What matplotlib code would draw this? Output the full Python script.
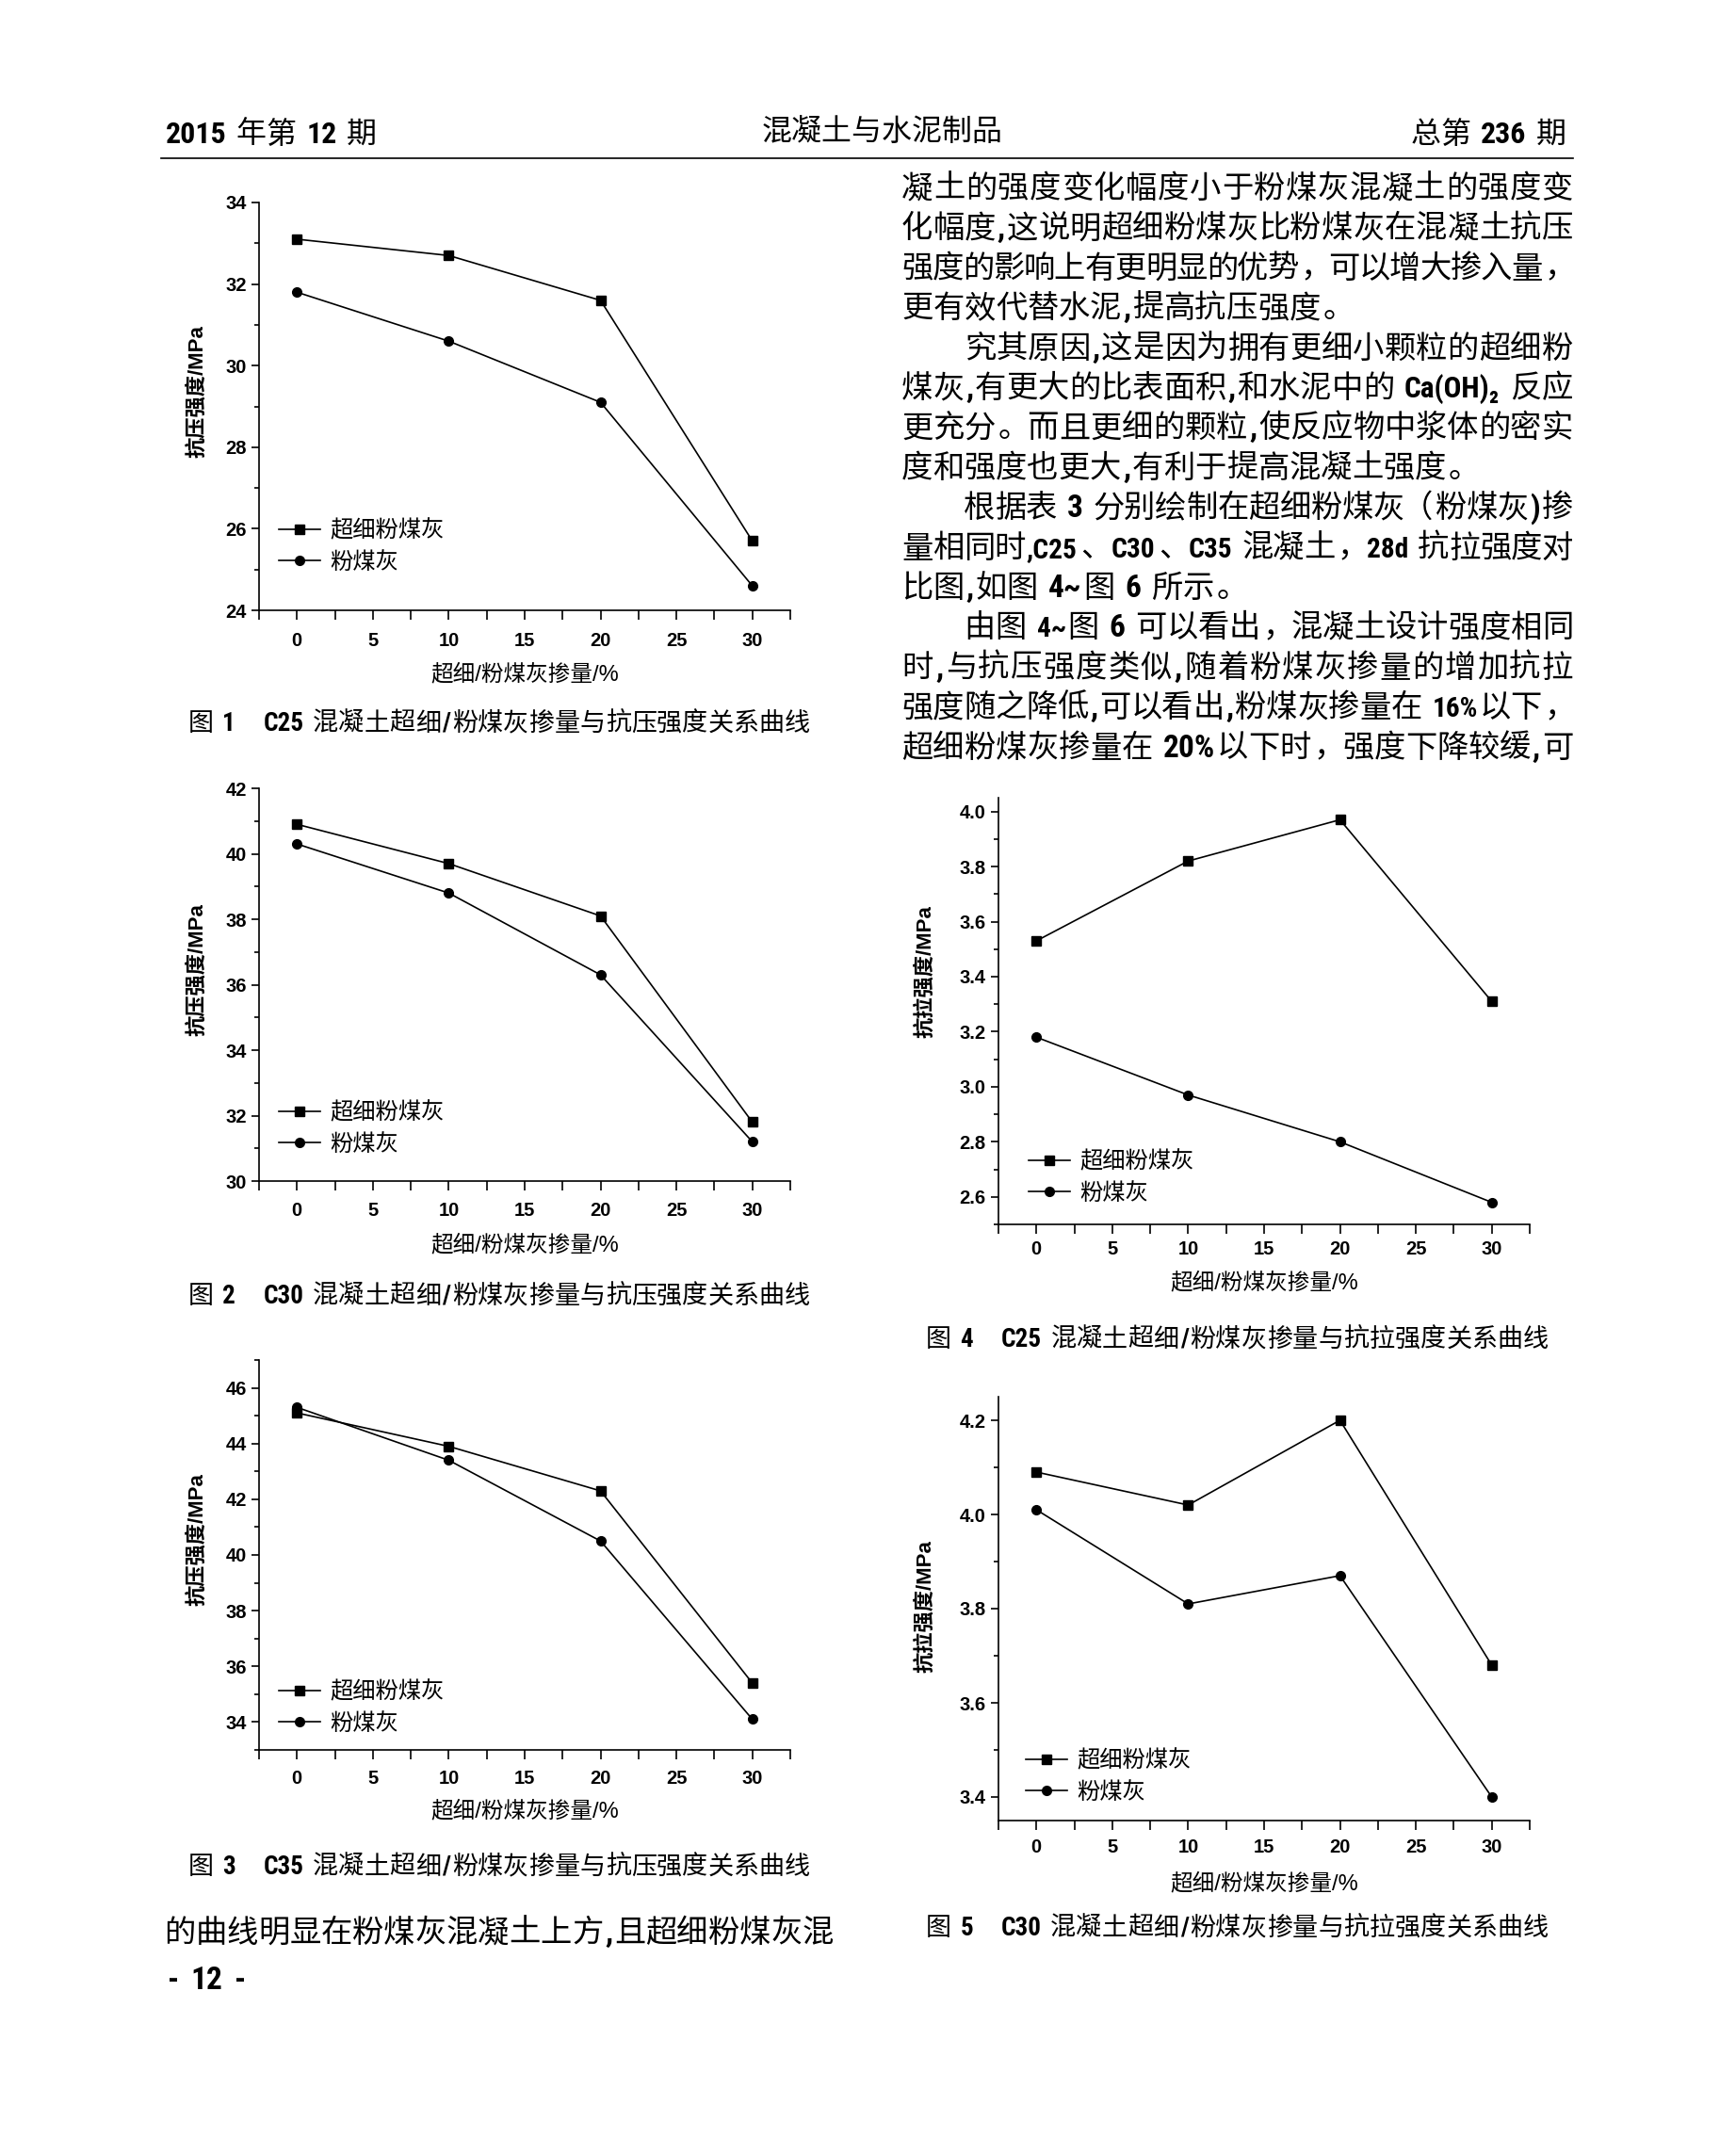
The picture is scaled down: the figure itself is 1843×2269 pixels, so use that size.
import re
import matplotlib
matplotlib.use('Agg')
import matplotlib.pyplot as plt
from matplotlib import font_manager as fm
from matplotlib.lines import Line2D
from matplotlib.ticker import MultipleLocator, FormatStrFormatter

W, H = 1843, 2269
DPI = 100

installed = {f.name for f in fm.fontManager.ttflist}
narrow = [n for n in ['Liberation Sans Narrow', 'Arial Narrow', 'Roboto Condensed']
          if n in installed]

CJK = ['Noto Sans CJK SC', 'DejaVu Sans']
NUM = ['Liberation Sans', 'DejaVu Sans']
BODY_NUM = narrow + NUM          # body text digits are a narrow bold face
plt.rcParams['font.family'] = NUM + ['Noto Sans CJK SC']

# ---- data ----
dose = [0, 10, 20, 30]
series_names = ['超细粉煤灰', '粉煤灰']

c25_comp_ultra = [33.1, 32.7, 31.6, 25.7]
c25_comp_fly = [31.8, 30.6, 29.1, 24.6]
c30_comp_ultra = [40.9, 39.7, 38.1, 31.8]
c30_comp_fly = [40.3, 38.8, 36.3, 31.2]
c35_comp_ultra = [45.1, 43.9, 42.3, 35.4]
c35_comp_fly = [45.3, 43.4, 40.5, 34.1]
c25_tens_ultra = [3.53, 3.82, 3.97, 3.31]
c25_tens_fly = [3.18, 2.97, 2.80, 2.58]
c30_tens_ultra = [4.09, 4.02, 4.20, 3.68]
c30_tens_fly = [4.01, 3.81, 3.87, 3.40]

x_label = '超细/粉煤灰掺量/%'
ylab_comp = '抗压强度/MPa'
ylab_tens = '抗拉强度/MPa'

captions = [
    '图 1\u3000C25 混凝土超细/粉煤灰掺量与抗压强度关系曲线',
    '图 2\u3000C30 混凝土超细/粉煤灰掺量与抗压强度关系曲线',
    '图 3\u3000C35 混凝土超细/粉煤灰掺量与抗压强度关系曲线',
    '图 4\u3000C25 混凝土超细/粉煤灰掺量与抗拉强度关系曲线',
    '图 5\u3000C30 混凝土超细/粉煤灰掺量与抗拉强度关系曲线',
]

body_lines = [
    '凝土的强度变化幅度小于粉煤灰混凝土的强度变',
    '化幅度,这说明超细粉煤灰比粉煤灰在混凝土抗压',
    '强度的影响上有更明显的优势，可以增大掺入量，',
    '更有效代替水泥,提高抗压强度。',
    '\u3000\u3000究其原因,这是因为拥有更细小颗粒的超细粉',
    '煤灰,有更大的比表面积,和水泥中的 Ca(OH)\u2082 反应',
    '更充分。而且更细的颗粒,使反应物中浆体的密实',
    '度和强度也更大,有利于提高混凝土强度。',
    '\u3000\u3000根据表 3 分别绘制在超细粉煤灰（粉煤灰)掺',
    '量相同时,C25、C30、C35 混凝土，28d 抗拉强度对',
    '比图,如图 4~图 6 所示。',
    '\u3000\u3000由图 4~图 6 可以看出，混凝土设计强度相同',
    '时,与抗压强度类似,随着粉煤灰掺量的增加抗拉',
    '强度随之降低,可以看出,粉煤灰掺量在 16%以下，',
    '超细粉煤灰掺量在 20%以下时，强度下降较缓,可',
]
body_justify = [True, True, True, False, True, True, True, False,
                True, True, False, True, True, True, True]
left_line = '的曲线明显在粉煤灰混凝土上方,且超细粉煤灰混'

fig = plt.figure(figsize=(W / DPI, H / DPI), dpi=DPI, facecolor='white')
renderer = fig.canvas.get_renderer()


def fx(px):
    return px / W


def fy(py):
    return 1 - py / H


def measure(s, size, weight):
    t = fig.text(0, 0, s, fontsize=size, fontweight=weight, family=BODY_NUM)
    w = t.get_window_extent(renderer=renderer).width
    t.remove()
    return w


def is_ascii(t):
    return re.match(r'[\x21-\x7e\u2082]', t) is not None


def token_widths(toks, em, nsize, weight):
    widths = []
    for t in toks:
        if t.startswith(' '):
            widths.append(0.28 * em * len(t))
        elif t == '\u3000':
            widths.append(em)
        elif is_ascii(t):
            widths.append(measure(t, nsize, weight) + 0.1 * em)
        else:
            widths.append(em)
    return widths


def draw_run(text, x0, yc, size, x1=None, align='left', num_weight='bold'):
    """Lay out a mixed CJK/Latin line token by token (CJK chars on an em grid)."""
    em = size * DPI / 72
    toks = re.findall(r'[\x21-\x7e\u2082]+| +|\u3000|.', text)
    nsize = size
    widths = token_widths(toks, em, nsize, num_weight)
    total = sum(widths)
    if align == 'justify' and total > x1 - x0:
        # squeeze the longer latin runs slightly when a justified line overflows
        asc = sum(w for t, w in zip(toks, widths) if is_ascii(t) and len(t) > 1)
        if asc > 0:
            nsize = size * max(0.88, 1 - (total - (x1 - x0)) / asc)
            widths = [measure(t, nsize, num_weight) + 0.1 * em
                      if is_ascii(t) and len(t) > 1 else w
                      for t, w in zip(toks, widths)]
            total = sum(widths)
    gap = 0
    if align == 'justify' and len(toks) > 1:
        gap = (x1 - x0 - total) / (len(toks) - 1)
    if align == 'right':
        x0 = x1 - total
    base = yc + 0.36 * em
    x = x0
    for t, w in zip(toks, widths):
        if t.strip() and t != '\u3000':
            if is_ascii(t):
                fs = nsize if len(t) > 1 else size
                fig.text(fx(x + 0.05 * em), fy(base), t, ha='left', va='baseline',
                         fontsize=fs, fontweight=num_weight, family=BODY_NUM)
            elif t in '，。、：；':
                fig.text(fx(x + 0.08 * em), fy(base), t, ha='left', va='baseline',
                         fontsize=size, family=CJK)
            elif t == '（':
                fig.text(fx(x + 0.92 * em), fy(base), t, ha='right', va='baseline',
                         fontsize=size, family=CJK)
            else:
                fig.text(fx(x + em / 2), fy(base), t, ha='center', va='baseline',
                         fontsize=size, family=CJK)
        x += w + gap


# ---- page header ----
draw_run('2015 年第 12 期', 174, 140, 23)
fig.text(fx(937), fy(140), '混凝土与水泥制品', ha='center', va='center',
         fontsize=23, family=CJK)
draw_run('总第 236 期', 0, 140, 23, x1=1663, align='right')
fig.add_artist(Line2D([fx(171), fx(1670)], [fy(168), fy(168)], color='black', lw=1.2))

# ---- body text ----
for i, (line, just) in enumerate(zip(body_lines, body_justify)):
    draw_run(line, 957, 198 + i * 42.4, 24, x1=1670,
             align='justify' if just else 'left')

draw_run(left_line, 174, 2050, 24, x1=885, align='justify')
draw_run('- 12 -', 176, 2100, 24)

# ---- charts ----
panels = [
    dict(box=(275, 215, 839, 648), ultra=c25_comp_ultra, fly=c25_comp_fly,
         ylim=(24, 34), major=2, minor=1, fmt='%d', ylabel=ylab_comp,
         ylab_xy=(210, 416), leg_xy=(296, 580), cap=captions[0], cap_span=(200, 860, 766),
         xlab_y=716, xpad=9.9),
    dict(box=(275, 837, 839, 1254), ultra=c30_comp_ultra, fly=c30_comp_fly,
         ylim=(30, 42), major=2, minor=1, fmt='%d', ylabel=ylab_comp,
         ylab_xy=(210, 1030), leg_xy=(296, 1198), cap=captions[1], cap_span=(200, 860, 1374),
         xlab_y=1322, xpad=8.5),
    dict(box=(275, 1444, 839, 1858), ultra=c35_comp_ultra, fly=c35_comp_fly,
         ylim=(33, 47), major=2, minor=1, fmt='%d', ylabel=ylab_comp,
         ylab_xy=(210, 1635), leg_xy=(296, 1813), cap=captions[2], cap_span=(200, 860, 1980),
         xlab_y=1923, xpad=7.8),
    dict(box=(1060, 847, 1624, 1300), ultra=c25_tens_ultra, fly=c25_tens_fly,
         ylim=(2.5, 4.05), major=0.2, minor=0.1, fmt='%.1f', ylabel=ylab_tens,
         ylab_xy=(983, 1032), leg_xy=(1092, 1250), cap=captions[3], cap_span=(983, 1644, 1420),
         xlab_y=1362, xpad=5.5),
    dict(box=(1060, 1483, 1624, 1933), ultra=c30_tens_ultra, fly=c30_tens_fly,
         ylim=(3.35, 4.25), major=0.2, minor=0.1, fmt='%.1f', ylabel=ylab_tens,
         ylab_xy=(983, 1706), leg_xy=(1089, 1886), cap=captions[4], cap_span=(983, 1644, 2045),
         xlab_y=2000, xpad=7),
]

for p in panels:
    left, top, right, bottom = p['box']
    ax = fig.add_axes([fx(left), fy(bottom), (right - left) / W, (bottom - top) / H])
    ax.plot(dose, p['ultra'], '-s', color='black', lw=1.2, ms=6.5, label=series_names[0])
    ax.plot(dose, p['fly'], '-o', color='black', lw=1.2, ms=7, label=series_names[1])
    ax.set_xlim(-2.5, 32.5)
    ax.set_ylim(*p['ylim'])
    for side in ['top', 'right']:
        ax.spines[side].set_visible(False)
    for side in ['left', 'bottom']:
        ax.spines[side].set_linewidth(1.2)
    ax.xaxis.set_major_locator(MultipleLocator(5))
    ax.xaxis.set_minor_locator(MultipleLocator(2.5))
    ax.yaxis.set_major_locator(MultipleLocator(p['major']))
    ax.yaxis.set_minor_locator(MultipleLocator(p['minor']))
    ax.yaxis.set_major_formatter(FormatStrFormatter(p['fmt']))
    ax.tick_params(axis='x', which='both', direction='out', length=7, width=1.2,
                   pad=p['xpad'], labelsize=14.5)
    ax.tick_params(axis='y', which='major', direction='out', length=6, width=1.2, pad=3.5,
                   labelsize=14.5)
    ax.tick_params(axis='y', which='minor', direction='out', length=3.5, width=1.2)
    for lab in ax.get_xticklabels() + ax.get_yticklabels():
        lab.set_fontweight('bold')

    lx, ly = p['leg_xy']
    ax.legend(loc='center left',
              bbox_to_anchor=((lx - left) / (right - left), 1 - (ly - top) / (bottom - top)),
              frameon=False, borderpad=0, borderaxespad=0, handlelength=1.8,
              handletextpad=0.45, labelspacing=0.3, prop=dict(family=CJK, size=17.5))

    fig.text(fx(p['ylab_xy'][0]), fy(p['ylab_xy'][1]), p['ylabel'], rotation=90,
             ha='center', va='center', fontsize=16, fontweight='bold',
             family=NUM + ['Noto Sans CJK SC'])
    fig.text(fx((left + right) / 2), fy(p['xlab_y']), x_label, ha='center', va='center',
             fontsize=17, family=NUM + ['Noto Sans CJK SC'])
    cx0, cx1, cy = p['cap_span']
    draw_run(p['cap'], cx0, cy, 19.5, x1=cx1, align='justify')

fig.savefig('out.png', dpi=DPI, facecolor='white')
